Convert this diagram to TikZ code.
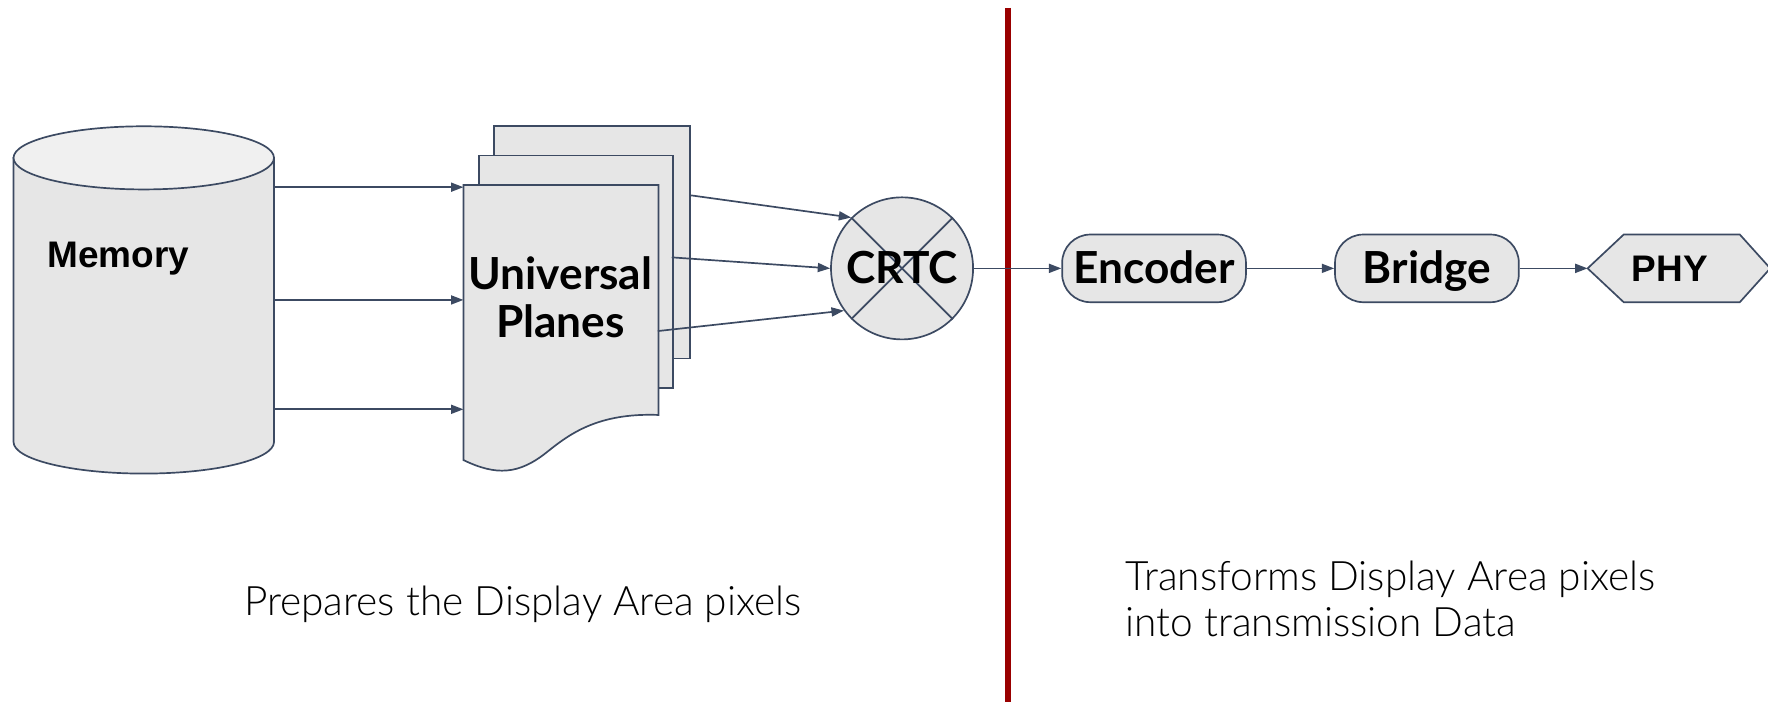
\documentclass[tikz,border=0pt]{standalone}
\usepackage{fontspec}
\setmainfont{Lato}
\newfontfamily\arialfont{Liberation Sans}
\newfontfamily\thinfont{Lato Light}
\usetikzlibrary{arrows.meta,calc}

\definecolor{edge}{HTML}{3C4A62}
\definecolor{boxfill}{HTML}{E6E6E6}
\definecolor{capfill}{HTML}{F0F0F0}
\definecolor{divider}{HTML}{990000}

\tikzset{
  outline/.style={draw=edge, line width=0.75pt},
  shaded/.style={outline, fill=boxfill},
  flow/.style={draw=edge, line width=0.75pt, -{Triangle[length=5.5pt,width=4pt]}},
  blocklabel/.style={font=\fontsize{19.6}{21}\selectfont\bfseries, text=black, inner sep=0pt},
  centredlabel/.style={blocklabel, text height=13pt, text depth=0pt},
  sanslabel/.style={font=\arialfont\fontsize{16.4}{18}\selectfont\bfseries, text=black, inner sep=0pt},
  sheet/.style={shaded, rectangle, inner sep=0pt},
  pill/.style={shaded, rounded corners=12.5pt, minimum width=81.5pt,
    minimum height=30pt, centredlabel},
  caption/.style={font=\thinfont\fontsize{18}{20}\selectfont, inner sep=0pt, text=black, anchor=base west},
  anchorbox/.style={rectangle, inner sep=0pt},
}

\begin{document}
\begin{tikzpicture}[x=0.5pt, y=-0.5pt]
\useasboundingbox (0,0) rectangle (1568,622);

% --- memory cylinder ---
\path[shaded] (12,140) -- (12,392) arc[start angle=180, end angle=0, x radius=115.5, y radius=28]
  -- (243,140) -- cycle;
\path[outline, fill=capfill] (127.5,140) ellipse[x radius=115.5, y radius=28];
\node[anchorbox, minimum width=115.5pt, minimum height=126pt] (mem) at (127.5,266) {};
\node[sanslabel, anchor=base] (memlabel) at (105,237.5) {Memory};

% --- stacked plane sheets ---
\node[sheet, minimum width=87pt, minimum height=103pt] (back) at (525,215) {};
\node[sheet, minimum width=86pt, minimum height=103pt] (middle) at (511,241) {};
\path[shaded] (411,164) -- (584,164) -- (584,368)
  .. controls (530,366) and (505,385) .. (485,401)
  .. controls (460,421) and (440,422) .. (411,408) -- cycle;
\node[anchorbox, minimum width=86.5pt, minimum height=122pt] (front) at (497.5,286) {};
\node[blocklabel, anchor=base] (planesA) at (497,257) {Universal};
\node[blocklabel, anchor=base] (planesB) at (497,299) {Planes};

% --- CRTC mixer ---
\node[shaded, circle, minimum size=63pt, inner sep=0pt] (crtc) at (800,238) {};
\draw[outline] (crtc.135) -- (crtc.315);
\draw[outline] (crtc.45) -- (crtc.225);
\node[centredlabel] (crtclabel) at (crtc.center) {CRTC};

% --- divider ---
\coordinate (divtop) at (894,7);
\coordinate (divbot) at (894,630);
\draw[divider, line width=2.6pt] (divtop) -- (divbot);

% --- output chain ---
\node[pill] (encoder) at (1023.5,238) {Encoder};
\node[pill] (bridge) at (1265.5,238) {Bridge};
\path[shaded] (1408,238) -- (1440,208) -- (1543,208) -- (1570,238) -- (1543,268) -- (1440,268) -- cycle;
\coordinate (phy) at (1408,238);
\node[sanslabel, anchor=base] (phylabel) at (1481,249.5) {PHY};

% --- connectors: memory to planes ---
\coordinate (inA) at (411,166);
\coordinate (inB) at (411,266);
\coordinate (inC) at (411,363);
\draw[flow] (mem.east |- inA) -- (inA);
\draw[flow] (mem.east |- inB) -- (inB);
\draw[flow] (mem.east |- inC) -- (inC);

% --- connectors: planes to CRTC ---
\coordinate (outA) at ($(back.north east)+(0,62)$);
\coordinate (outB) at ($(middle.north east)+(-2,91)$);
\coordinate (outC) at ($(front.north east)+(-1,130)$);
\draw[flow] (outA) -- (crtc.135);
\draw[flow] (outB) -- (crtc.180);
\draw[flow] (outC) -- (crtc.216);

% --- connectors: output chain ---
\draw[flow] (crtc.east) -- (encoder.west);
\draw[flow] (encoder.east) -- (bridge.west);
\draw[flow] (bridge.east) -- (phy);

% --- captions ---
\node[caption] (leftcap) at (216,546) {Prepares the Display Area pixels};
\node[caption] (rightcapA) at (998,524) {Transforms Display Area pixels};
\node[caption] (rightcapB) at (998,564.5) {into transmission Data};
\end{tikzpicture}
\end{document}
